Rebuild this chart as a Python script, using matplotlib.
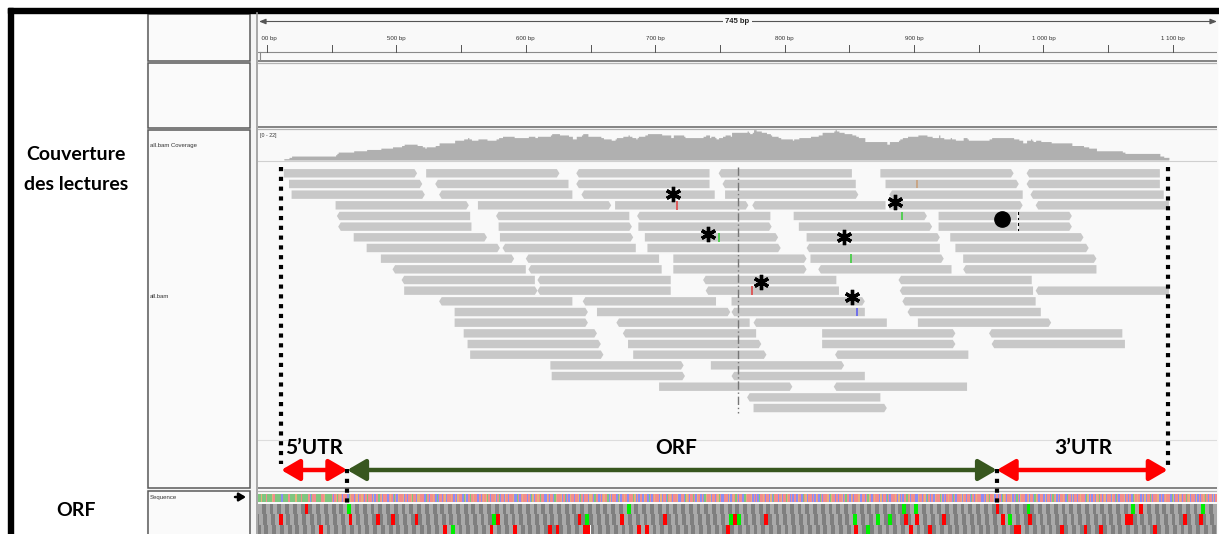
import numpy as np
import matplotlib
matplotlib.use("Agg")
import matplotlib.pyplot as plt
from matplotlib.patches import Rectangle, Polygon
from matplotlib.transforms import Bbox

# ---- data (positions in bp) ----
read_len = 103
read_starts = [
    [413, 523, 639, 749, 874, 987],
    [417, 530, 639, 752, 878, 987],
    [419, 533, 643, 754, 881, 990],
    [453, 563, 669, 775, 881, 994],
    [454, 577, 686, 807, 919],
    [455, 579, 687, 811, 919],
    [467, 580, 692, 817, 928],
    [477, 582, 694, 817, 932],
    [488, 600, 714, 820, 938],
    [497, 602, 714, 826, 938],
    [504, 609, 737, 888],
    [506, 609, 739, 889, 994],
    [533, 644, 759, 891],
    [545, 655, 759, 895],
    [545, 670, 776, 903],
    [552, 675, 829, 958],
    [555, 679, 829, 960],
    [557, 683, 839],
    [619, 743],
    [620, 759],
    [703, 838],
    [771],
    [776],
]
read_strands = ["RRLLRL", "RLLLRL", "RLLRLL", "RRRLRL", "LLLRR", "LRRRR", "RRRRR",
                "RLRLR", "RLRRR", "LLRLL", "LLLL", "RLLLL", "LLRL", "RRLL", "RLLR",
                "RLRL", "RRRL", "RRL", "RR", "RL", "RL", "L", "R"]

mm_row = [1, 3, 4, 6, 8, 11, 13]
mm_pos = [902, 717, 891, 749, 851, 775, 856]
mm_base = ["G", "T", "A", "A", "A", "T", "C"]
del_pos = 980
del_rows = [4, 5]

star_pos = [714, 885, 741, 846, 782, 852]
star_row = [1.95, 2.7, 5.7, 6.0, 10.2, 11.6]
dot_pos, dot_row = 968, 4.3

utr5_start, orf_start, orf_end, utr3_end = 411, 462, 964, 1096
center_bp = 764

tick_bp = [400, 500, 600, 700, 800, 900, 1000, 1100]
tick_lab = ["400 bp", "500 bp", "600 bp", "700 bp", "800 bp", "900 bp", "1 000 bp", "1 100 bp"]

# translation frames: stop (red) / start (green) codons
stop_f = [
    [429, 962, 1075, 1133],
    [408, 463, 483, 496, 514, 577, 640, 673, 705, 759, 783, 891, 900, 921, 966, 987,
     1062, 1065, 1109, 1121],
    [439, 535, 572, 589, 616, 623, 643, 646, 685, 691, 754, 853, 895, 912, 976, 981,
     1014, 1032, 1044, 1086],
]
start_f = [
    [462, 677, 890, 899, 988, 1069, 1123],
    [574, 646, 756, 762, 854, 872, 881, 974],
    [541, 864],
]

seq = ("AAGAAATAAAAGTAAAAACAAAATTAAAAGAAATAAAAATCATTTAAAATTGAAAAATCTG"
       "ATGTCTTTCAGTTCTGCTTGTCTATTTCGCTTATGCTTTCTGTCATCGTTTGCTCTTGAT"
       "TCGGTTTCCATCTTGTCACTTCTGCTTTGTCTCGTTTCAGCTTATGTTCCTCTGTGATCT"
       "TTGCTACTTCGTCTTTGCCATCTGTTTCTCAGCTTGTATTCCGTCTTCAGTTTGCTACTC"
       "GTTCTTGCATCTTTCGGTCATTCTCTGTTACGCTTTCAGCTTGTCCTTTAGCTCTTCGTT"
       "CATCTGTTTCGCTTCATGTCTTTGCCTTCAGTCTTATCGTTCTCAGTTGCTTCTGATCCT"
       "TTCGCTGTATCTTCCAGTTTGCTCTCATTGTCTTCGCATTTCTGCTTAGTCTCTTCGTTC"
       "ATGCTTTCTCGTCATCTTTGCAGTTCTCTTGCTATTCGTCTTTGCCTTCTAGTCTGTTTC"
       "GCTTCATCTTTGTCGCTCTTATGCTTTCCGTTCTGCATCTTCGTTTAGCTCTGTTCATCT"
       "TTGCGTCTTCATCTGTTTCCTCGTATTGCTTCTCAGTCTTTGCTCATCGTTTCTGCTTCA"
       "GTCTTTCGCTTCTATGCTCTTGTCATTCGCTTCTGTTTCAGCTCTTCGTATCTGCTTTCG"
       "TCATCTTTGCTCTTCAGTGTTCTCGCTTATCTTTGCCTCTGTTTCAGCTTCGTCTTATGC"
       "TTTCGCTCTGTATCTTCGCTTTGATCTCGTTCAGCTTCTGTCTTTCGCATTCTGCTTCGA")

# ---- layout ----
W, H = 1219, 534
PX_PER_BP = 1.294
def bp(px):
    return 400 + (px - 267) / PX_PER_BP

fig = plt.figure(figsize=(W / 100, H / 100), dpi=100)
ax = fig.add_axes([0, 0, 1, 1])
ax.set_xlim(0, W)
ax.set_ylim(H, 0)
ax.axis("off")

bold = dict(family=["Lato", "DejaVu Sans"], weight="bold", color="black")
small = dict(family=["Liberation Sans", "DejaVu Sans"], color="#333333")

# outer frame + columns
ax.add_patch(Rectangle((13, 13), 134, H, color="white"))
ax.add_patch(Rectangle((147, 13), 111, H, color="#f4f4f4"))
ax.add_patch(Rectangle((258, 13), 959, H, color="#f9f9f9"))
for y0, y1 in [(13.5, 61), (63, 127.5), (130, 488), (491, 540)]:
    ax.add_patch(Rectangle((147.5, y0), 102.5, y1 - y0, facecolor="#fafafa",
                           edgecolor="#5a5a5a", lw=1.1))
ax.plot([256.5, 256.5], [13, H], color="#9a9a9a", lw=1.2)
ax.add_patch(Rectangle((8, 8), W - 8, 4.6, color="black"))
ax.add_patch(Rectangle((8, 8), 5, H, color="black"))

ax.text(76, 155, "Couverture", ha="center", va="center", fontsize=14, **bold)
ax.text(76, 184, "des lectures", ha="center", va="center", fontsize=14, **bold)
ax.text(76, 511, "ORF", ha="center", va="center", fontsize=14, **bold)
ax.text(150, 146, "all.bam Coverage", ha="left", va="center", fontsize=4.3, **small)
ax.text(150, 297, "all.bam", ha="left", va="center", fontsize=4.3, **small)
ax.text(150, 498, "Sequence", ha="left", va="center", fontsize=4.3, **small)
ax.annotate("", xy=(246, 497), xytext=(235, 497),
            arrowprops=dict(arrowstyle="-|>,head_length=0.5,head_width=0.3",
                            color="black", lw=1.8, mutation_scale=8, shrinkA=0, shrinkB=0))

# ---- track column, x in bp, y in pixels ----
tr = fig.add_axes([258 / W, 0, (1217 - 258) / W, 1])
tr.set_xlim(bp(258), bp(1217))
tr.set_ylim(H, 0)
tr.axis("off")
xa, xb = bp(258), bp(1217)

# separators
for y, c, lw in [(60.8, "#7a7a7a", 1.3), (62.8, "#b4b4b4", 0.9), (127.3, "#7a7a7a", 1.3),
                 (129.3, "#b4b4b4", 0.9), (488.3, "#7a7a7a", 1.3), (490.5, "#b4b4b4", 0.9),
                 (161, "#d0d0d0", 0.8), (440, "#dddddd", 0.8)]:
    tr.axhline(y, color=c, lw=lw)

# ruler
tr.annotate("", xy=(xb, 21.5), xytext=(bp(259), 21.5),
            arrowprops=dict(arrowstyle="<|-|>,head_length=0.5,head_width=0.2",
                            color="#555555", lw=0.8, mutation_scale=8, shrinkA=0, shrinkB=0))
tr.text((xa + xb) / 2, 21.5, "745 bp", ha="center", va="center", fontsize=5.5,
        weight="bold", family=["Liberation Sans", "DejaVu Sans"], color="#222222",
        bbox=dict(facecolor="#f9f9f9", edgecolor="none", pad=2))
tr.plot([xa, xb], [52, 52], color="#8a8a8a", lw=0.8)
tr.plot([bp(259.5), bp(259.5)], [52, 60], color="#8a8a8a", lw=0.8)
for t in np.arange(400, 1150, 50):
    tr.plot([t, t], [45, 52], color="#555555", lw=0.7)
clip = Bbox.from_extents(261, 0, 1217, H)
for t, lab in zip(tick_bp, tick_lab):
    txt = tr.text(t, 38.5, lab, ha="center", va="center", fontsize=4.4, **small)
    txt.set_clip_box(clip)
    txt.set_clip_on(True)

# coverage computed from the reads
grid = np.arange(393, 1136)
cov = np.zeros(len(grid))
for row in read_starts:
    for s in row:
        cov += (grid >= s) & (grid < s + read_len)
tr.fill_between(grid, 160, 160 - cov / 22 * 29, step="post", color="#b0b0b0", lw=0)
tr.text(bp(260), 135, "[0 - 22]", ha="left", va="center", fontsize=3.8, **small)

# reads
ROW0, PITCH, RH, TIP = 173.3, 10.67, 8.4, 2.0
for r, (row, strands) in enumerate(zip(read_starts, read_strands)):
    yc = ROW0 + r * PITCH
    for s, d in zip(row, strands):
        e = s + read_len
        if d == "R":
            pts = [(s, yc - RH / 2), (e - TIP, yc - RH / 2), (e, yc), (e - TIP, yc + RH / 2), (s, yc + RH / 2)]
        else:
            pts = [(s, yc), (s + TIP, yc - RH / 2), (e, yc - RH / 2), (e, yc + RH / 2), (s + TIP, yc + RH / 2)]
        tr.add_patch(Polygon(pts, closed=True, facecolor="#c8c8c8", edgecolor="none"))

base_col = {"A": "#3fcf3f", "C": "#6060f0", "G": "#c8a07a", "T": "#e04848"}
for r, p, b in zip(mm_row, mm_pos, mm_base):
    yc = ROW0 + r * PITCH
    tr.plot([p, p], [yc - RH / 2, yc + RH / 2], color=base_col[b], lw=1.2, solid_capstyle="butt")
for r in del_rows:
    yc = ROW0 + r * PITCH
    tr.plot([del_pos, del_pos], [yc - RH / 2, yc + RH / 2], color="#f9f9f9", lw=1.5)
    tr.plot([del_pos, del_pos], [yc - 3.5, yc - 2], color="black", lw=0.8)
    tr.plot([del_pos, del_pos], [yc + 2, yc + 3.5], color="black", lw=0.8)

tr.plot([center_bp, center_bp], [167, 413], color="#777777", lw=1, ls=(0, (6, 2, 1, 2)))

# annotations on the reads
tr.plot(star_pos, [ROW0 + r * PITCH for r in star_row], ls="none", marker=(6, 2, 0),
        ms=11, mew=2.4, color="black")
tr.plot([dot_pos], [ROW0 + dot_row * PITCH], ls="none", marker="o", ms=11, color="black")

# sequence strip
rgb = {"A": (0.50, 0.78, 0.50), "C": (0.55, 0.55, 0.96), "G": (0.91, 0.69, 0.48), "T": (0.95, 0.55, 0.55)}
img = np.array([[rgb[c] for c in seq]])
tr.imshow(img, extent=(393, 393 + len(seq), 502, 494.5), aspect="auto",
          interpolation="nearest", zorder=2)
tr.set_xlim(xa, xb)
tr.set_ylim(H, 0)

# translation frames
frame_y = [(503.5, 10.5), (514, 10.6), (524.6, 10)]
for f in range(3):
    y0, hh = frame_y[f]
    origin = orf_start + f - 3 * 40
    starts = np.arange(origin, 1140, 3)
    cols = ["#7f7f7f" if i % 2 == 0 else "#a9a9a9" for i in range(len(starts))]
    tr.bar(starts, hh, width=3, bottom=y0, align="edge", color=cols, lw=0)
    for p in stop_f[f]:
        c = origin + 3 * round((p - origin) / 3)
        tr.bar(c, hh, width=3, bottom=y0, align="edge", color="#ff0000", lw=0)
    for p in start_f[f]:
        c = origin + 3 * round((p - origin) / 3)
        tr.bar(c, hh, width=3, bottom=y0, align="edge", color="#00ee00", lw=0)

# UTR / ORF markup
dots = dict(color="black", lw=3, ls=(0, (1, 1.35)), zorder=5)
tr.plot([utr5_start, utr5_start], [167, 464], **dots)
tr.plot([utr3_end, utr3_end], [167, 467], **dots)
tr.plot([orf_start, orf_start], [469, 506], **dots)
tr.plot([orf_end, orf_end], [469, 506], **dots)

def dbl_arrow(a, b, color):
    tr.annotate("", xy=(b, 470), xytext=(a, 470), zorder=6,
                arrowprops=dict(arrowstyle="<|-|>,head_length=0.55,head_width=0.32",
                                color=color, lw=3.2, mutation_scale=20, shrinkA=0, shrinkB=0))

dbl_arrow(utr5_start, orf_start, "#ff0000")
dbl_arrow(orf_start, orf_end, "#38571f")
dbl_arrow(orf_end, utr3_end, "#ff0000")
tr.text((utr5_start + orf_start) / 2, 448, "5\u2019UTR", ha="center", va="center", fontsize=15, **bold)
tr.text(716, 448, "ORF", ha="center", va="center", fontsize=15, **bold)
tr.text(1031, 448, "3\u2019UTR", ha="center", va="center", fontsize=15, **bold)

fig.savefig("out.png", dpi=100)
